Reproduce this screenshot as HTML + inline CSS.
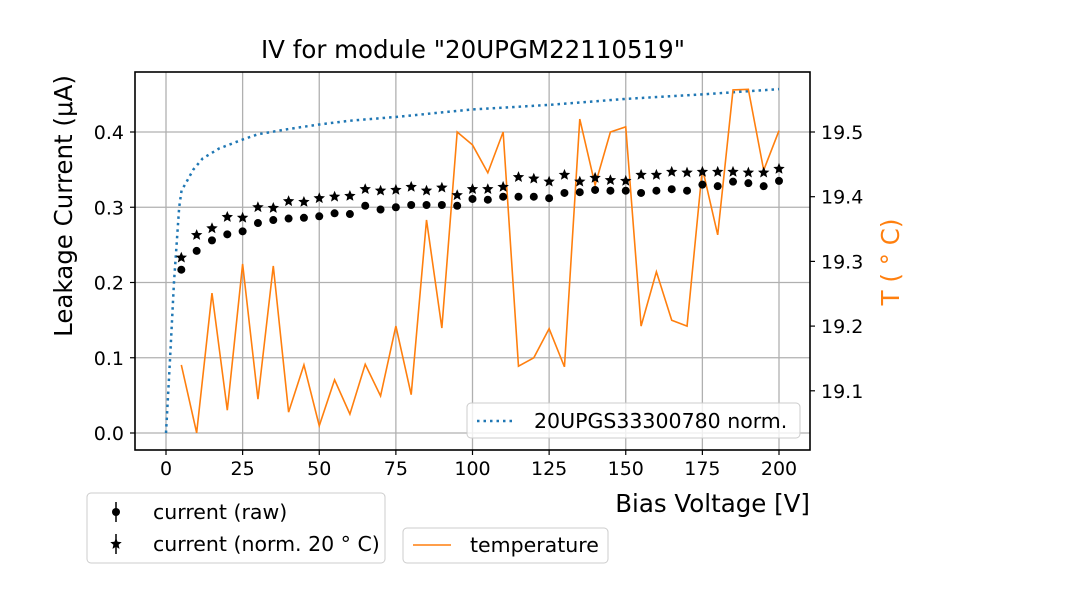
<!DOCTYPE html>
<html><head><meta charset="utf-8"><style>
body{margin:0;background:#fff}
svg text{font-family:"DejaVu Sans","Liberation Sans",sans-serif}
</style></head><body>
<svg id="c" width="1080" height="600" xmlns="http://www.w3.org/2000/svg"></svg>
<script>
const voltages=[5,10,15,20,25,30,35,40,45,50,55,60,65,70,75,80,85,90,95,100,105,110,115,120,125,130,135,140,145,150,155,160,165,170,175,180,185,190,195,200];
const currentRaw=[0.217,0.242,0.256,0.264,0.268,0.279,0.283,0.285,0.286,0.288,0.292,0.291,0.302,0.297,0.300,0.303,0.303,0.303,0.302,0.311,0.310,0.314,0.314,0.314,0.312,0.319,0.320,0.323,0.322,0.322,0.319,0.322,0.324,0.322,0.330,0.328,0.334,0.332,0.328,0.335];
const currentNorm=[0.233,0.263,0.272,0.287,0.286,0.300,0.299,0.308,0.307,0.312,0.314,0.315,0.324,0.322,0.323,0.327,0.322,0.326,0.316,0.324,0.324,0.327,0.340,0.338,0.334,0.343,0.334,0.339,0.336,0.335,0.343,0.343,0.347,0.346,0.347,0.347,0.347,0.346,0.346,0.351];
const temperature=[19.140,19.035,19.251,19.070,19.296,19.087,19.293,19.067,19.140,19.046,19.117,19.064,19.141,19.092,19.200,19.094,19.364,19.197,19.500,19.480,19.437,19.500,19.138,19.151,19.196,19.137,19.520,19.418,19.500,19.508,19.200,19.284,19.209,19.200,19.444,19.341,19.565,19.566,19.441,19.502];
const refV=[0,1.3,2.6,4.3,5.1,6.2,8.9,12,17.3,25,30,40,50,60,75,100,125,150,175,200];
const refI=[0,0.097,0.2,0.3,0.323,0.33,0.35,0.365,0.378,0.39,0.397,0.404,0.41,0.415,0.42,0.43,0.436,0.444,0.45,0.457];
const xTicks=[0,25,50,75,100,125,150,175,200];
const yTicks=[0.0,0.1,0.2,0.3,0.4];
const tTicks=[19.1,19.2,19.3,19.4,19.5];

const L=135,R=810,T=72,B=450;
const X=v=>166+(v-0)*(779-166)/200;
const Y=i=>433-i*752.5;
const YT=t=>132-(t-19.5)*647;
const svg=document.getElementById('c');
const NS='http://www.w3.org/2000/svg';
function mk(tag,attrs,parent){const e=document.createElementNS(NS,tag);for(const k in attrs)e.setAttribute(k,attrs[k]);(parent||svg).appendChild(e);return e;}
function txt(s,attrs){const e=mk('text',attrs);e.textContent=s;return e;}

const grid=mk('g',{});


xTicks.forEach(v=>{mk('line',{x1:X(v),x2:X(v),y1:T,y2:B,stroke:'#b0b0b0','stroke-width':1.3},grid);});
yTicks.forEach(v=>{mk('line',{x1:L,x2:R,y1:Y(v),y2:Y(v),stroke:'#b0b0b0','stroke-width':1.3},grid);});

const rp=mk('polyline',{points:refV.map((v,i)=>X(v)+','+Y(refI[i])).join(' '),fill:'none',stroke:'#1f77b4','stroke-width':2.5,'stroke-dasharray':'2.5,4'});



const tp=mk('polyline',{points:voltages.map((v,i)=>X(v)+','+YT(temperature[i])).join(' '),fill:'none',stroke:'#ff7f0e','stroke-width':1.6});



function star(cx,cy,r){let p=[];for(let k=0;k<10;k++){const a=-Math.PI/2+k*Math.PI/5;const rr=k%2?r*0.45:r;p.push((cx+rr*Math.cos(a)).toFixed(1)+','+(cy+rr*Math.sin(a)).toFixed(1));}return p.join(' ');}
voltages.forEach((v,i)=>{
 const c=mk('circle',{cx:X(v),cy:Y(currentRaw[i]),r:4,fill:'#000'});
 
 
 const s=mk('polygon',{points:star(X(v),Y(currentNorm[i]),6),fill:'#000'});
 
 
});

const fr=mk('rect',{x:L,y:T,width:R-L,height:B-T,fill:'none',stroke:'#000','stroke-width':1.6});



xTicks.forEach(v=>{mk('line',{x1:X(v),x2:X(v),y1:B,y2:B+5,stroke:'#000','stroke-width':1.2});
 const t=txt(String(v),{x:X(v),y:B+25,'text-anchor':'middle','font-size':19});
 });
yTicks.forEach(v=>{mk('line',{x1:L-5,x2:L,y1:Y(v),y2:Y(v),stroke:'#000','stroke-width':1.2});
 const t=txt(v.toFixed(1),{x:L-11,y:Y(v)+7,'text-anchor':'end','font-size':19});
 });
tTicks.forEach(v=>{mk('line',{x1:R,x2:R+5,y1:YT(v),y2:YT(v),stroke:'#000','stroke-width':1.2});
 const t=txt(v.toFixed(1),{x:R+11,y:YT(v)+7,'font-size':19});
 });

let e;
e=txt('IV for module "20UPGM22110519"',{x:473,y:58,'text-anchor':'middle','font-size':24.5});

e=txt('Bias Voltage [V]',{x:810,y:512,'text-anchor':'end','font-size':24.5});

e=txt('Leakage Current (μA)',{x:0,y:0,'text-anchor':'middle','font-size':24.5,transform:'translate(72,206) rotate(-90)'});

e=txt('T (°C)',{x:0,y:0,'text-anchor':'middle','font-size':24.5,fill:'#ff7f0e','xml:space':'preserve',transform:'translate(899,262) rotate(-90)'});
e.textContent='T ( ° C)';


const lg1=mk('g',{});

mk('rect',{x:467,y:403,width:333,height:35,rx:4,fill:'#fff','fill-opacity':0.8,stroke:'#ccc'},lg1);
mk('line',{x1:477,x2:515,y1:421,y2:421,stroke:'#1f77b4','stroke-width':2.5,'stroke-dasharray':'2.5,4'},lg1);
e=txt('20UPGS33300780 norm.',{x:534,y:428,'font-size':20.5});

const lg2=mk('g',{});

mk('rect',{x:87,y:493,width:298,height:70,rx:4,fill:'#fff',stroke:'#ccc'},lg2);
mk('line',{x1:116,x2:116,y1:502,y2:522,stroke:'#000','stroke-width':1.5},lg2);
mk('circle',{cx:116,cy:512,r:4,fill:'#000'},lg2);
mk('line',{x1:116,x2:116,y1:534,y2:554,stroke:'#000','stroke-width':1.5},lg2);
mk('polygon',{points:star(116,544,6),fill:'#000'},lg2);
e=txt('current (raw)',{x:153,y:519,'font-size':20.5});
e=txt('current (norm. 20 ° C)',{x:153,y:551,'font-size':20.5,'xml:space':'preserve'});

const lg3=mk('g',{});

mk('rect',{x:403,y:528,width:205,height:35,rx:4,fill:'#fff',stroke:'#ccc'},lg3);
mk('line',{x1:413,x2:451,y1:545,y2:545,stroke:'#ff7f0e','stroke-width':1.6},lg3);
e=txt('temperature',{x:470,y:552,'font-size':20.5});
</script>
</body></html>
